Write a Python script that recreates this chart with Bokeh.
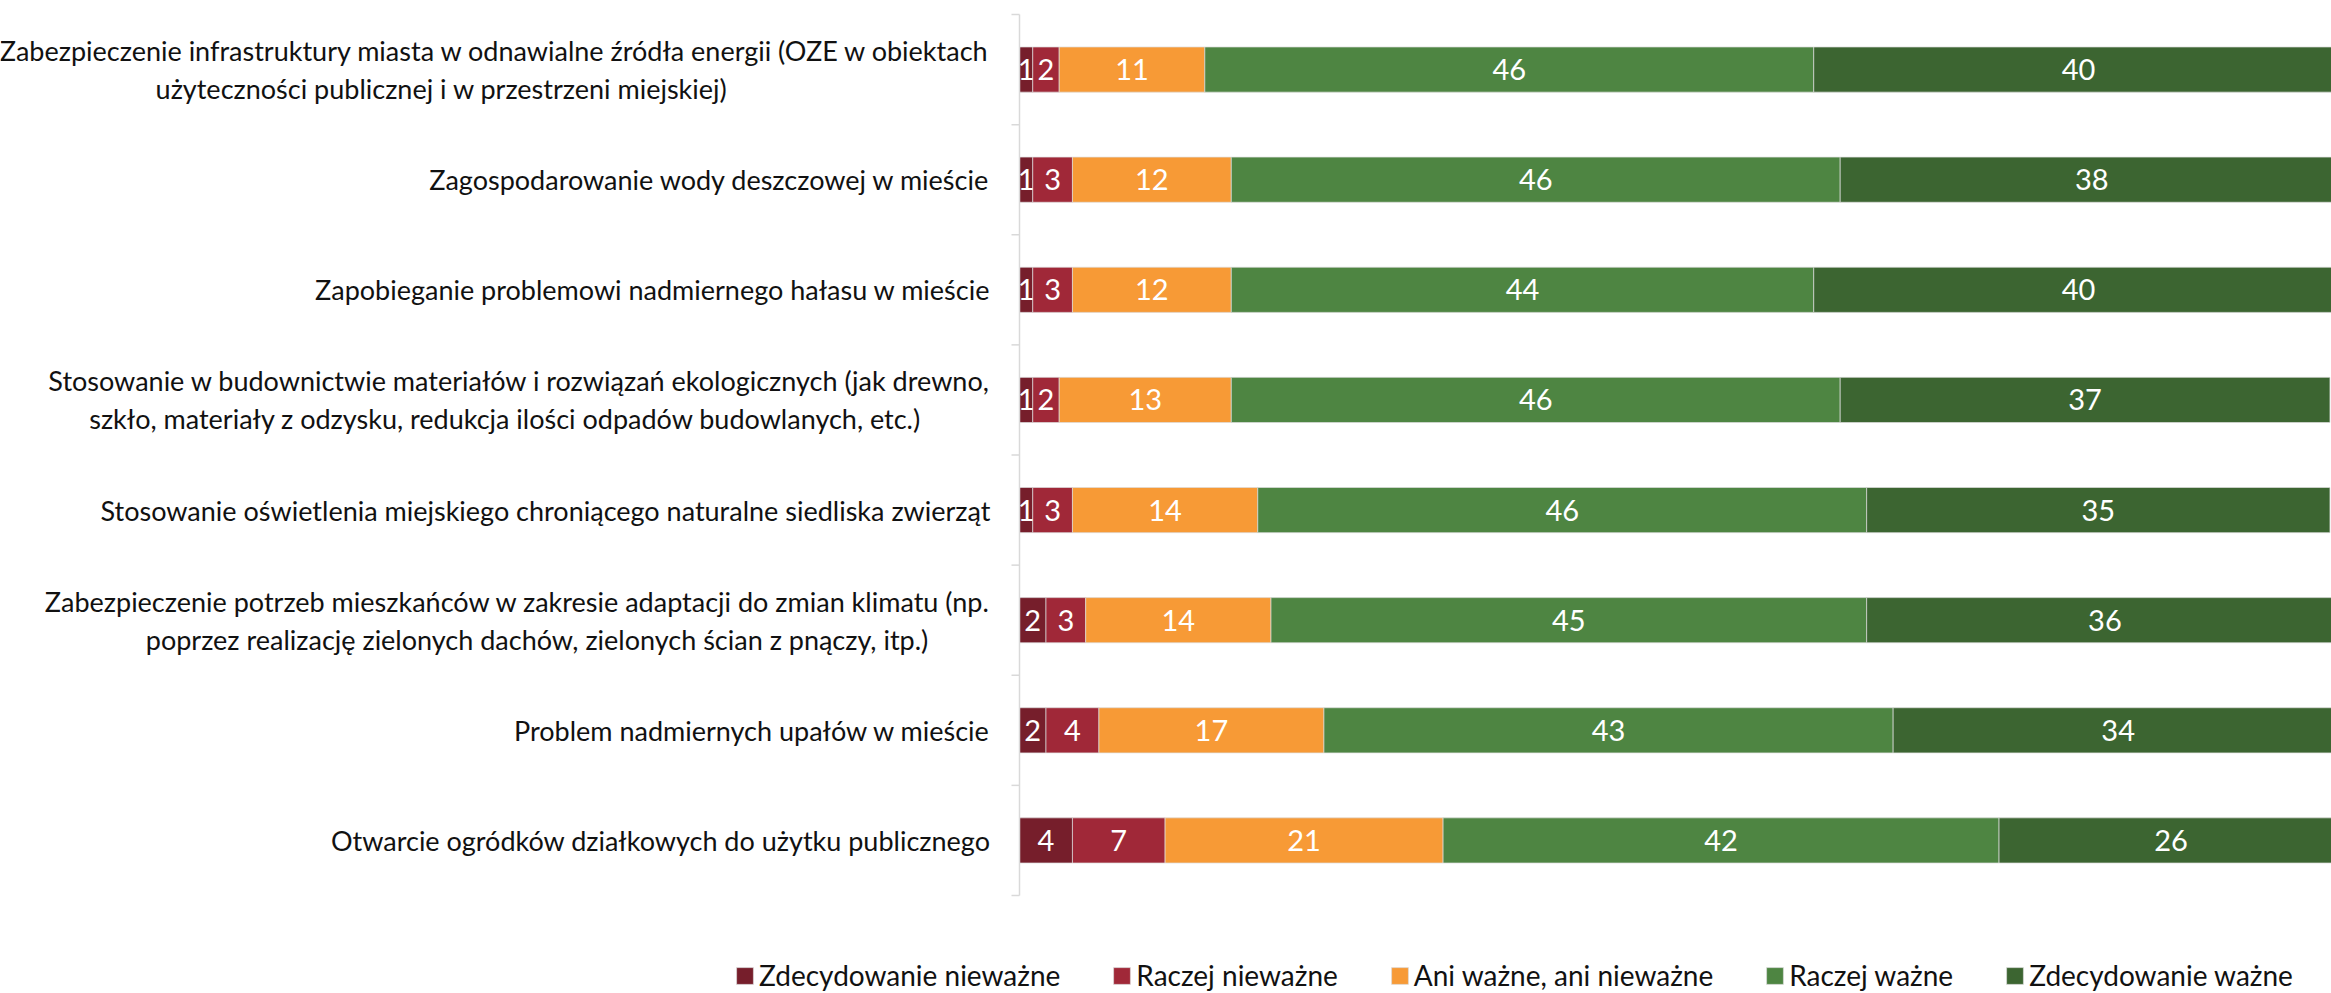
from bokeh.plotting import figure
from bokeh.models import ColumnDataSource, Range1d
from bokeh.core.properties import value
from bokeh.embed import file_html
from bokeh.resources import INLINE

categories = [
    "Zabezpieczenie infrastruktury miasta w odnawialne źródła energii (OZE w obiektach\nużyteczności publicznej i w przestrzeni miejskiej)",
    "Zagospodarowanie wody deszczowej w mieście",
    "Zapobieganie problemowi nadmiernego hałasu w mieście",
    "Stosowanie w budownictwie materiałów i rozwiązań ekologicznych (jak drewno,\nszkło, materiały z odzysku, redukcja ilości odpadów budowlanych, etc.)",
    "Stosowanie oświetlenia miejskiego chroniącego naturalne siedliska zwierząt",
    "Zabezpieczenie potrzeb mieszkańców w zakresie adaptacji do zmian klimatu (np.\npoprzez realizację zielonych dachów, zielonych ścian z pnączy, itp.)",
    "Problem nadmiernych upałów w mieście",
    "Otwarcie ogródków działkowych do użytku publicznego",
]

series_names = [
    "Zdecydowanie nieważne",
    "Raczej nieważne",
    "Ani ważne, ani nieważne",
    "Raczej ważne",
    "Zdecydowanie ważne",
]

zdecydowanie_niewazne = [1, 1, 1, 1, 1, 2, 2, 4]
raczej_niewazne = [2, 3, 3, 2, 3, 3, 4, 7]
ani_wazne_ani_niewazne = [11, 12, 12, 13, 14, 14, 17, 21]
raczej_wazne = [46, 46, 44, 46, 46, 45, 43, 42]
zdecydowanie_wazne = [40, 38, 40, 37, 35, 36, 34, 26]

series_values = [zdecydowanie_niewazne, raczej_niewazne, ani_wazne_ani_niewazne,
                 raczej_wazne, zdecydowanie_wazne]
colors = ["#761E2B", "#A02838", "#F79A36", "#4E8542", "#3C6531"]

# ---- styling ----
FONT = "Lato"
W, H = 2331, 993
AXIS_PX = 1019          # pixel position of the category axis
TOP_PX, BOTTOM_PX = 14, 895
PX_PER_UNIT = 13.237    # horizontal scale (px per percentage point)
LABEL_GAP_PX = 29
TICK_PX = 8
# trailing no-break spaces to centre the second line of wrapped labels
line2_pad = [38, 0, 0, 10, 0, 9, 0, 0]

n = len(categories)
ypos = [n - 0.5 - i for i in range(n)]
row_px = (BOTTOM_PX - TOP_PX) / n

x_start = -AXIS_PX / PX_PER_UNIT
x_end = (W - AXIS_PX) / PX_PER_UNIT
y_end = n + TOP_PX / row_px
y_start = -(H - BOTTOM_PX) / row_px


def tick_label(text, pad):
    lines = text.split("\n")
    if len(lines) > 1:
        lines[-1] = lines[-1] + "\u00a0" * pad
    return "\n".join(lines)


data = {"y": ypos, "label": [tick_label(c, pd) for c, pd in zip(categories, line2_pad)]}
keys = []
for k, vals in enumerate(series_values):
    key = f"s{k}"
    keys.append(key)
    data[key] = vals
source = ColumnDataSource(data)

p = figure(width=W, height=H, output_backend="svg", toolbar_location=None,
           x_range=Range1d(x_start, x_end), y_range=Range1d(y_start, y_end),
           min_border=0, x_axis_type=None, y_axis_type=None)
p.xgrid.visible = False
p.ygrid.visible = False
p.outline_line_color = None

p.hbar_stack(keys, y="y", height=0.41, color=colors, source=source,
             line_color="#dcdcdc", line_alpha=0.7, line_width=1,
             legend_label=series_names)

# value labels inside the segments
lx, ly, lt = [], [], []
for i in range(n):
    cum = 0
    for vals in series_values:
        v = vals[i]
        lx.append(cum + v / 2)
        ly.append(ypos[i])
        lt.append(str(v))
        cum += v
p.text(x=lx, y=ly, text=lt, text_align="center", text_baseline="middle",
       text_color="white", text_font=value(FONT), text_font_size="29px")

# category axis: line, boundary ticks and labels
p.segment(x0=[0], y0=[0], x1=[0], y1=[n], line_color="#d9d9d9", line_width=1.5)
bounds = list(range(n + 1))
p.segment(x0=[-TICK_PX / PX_PER_UNIT] * len(bounds), y0=bounds,
          x1=[0] * len(bounds), y1=bounds, line_color="#d9d9d9", line_width=1.5)
p.text(x=-LABEL_GAP_PX / PX_PER_UNIT, y="y", text="label", source=source,
       text_align="right", text_baseline="middle", text_color="#111111",
       text_font=value(FONT), text_font_size="27px", text_line_height=1.15)

leg = p.legend[0]
leg.orientation = "horizontal"
leg.location = (734, 1)
leg.border_line_color = None
leg.background_fill_alpha = 0
leg.padding = 0
leg.margin = 0
leg.spacing = 51
leg.glyph_width = 21
leg.glyph_height = 21
leg.label_standoff = 4
leg.label_text_font = FONT
leg.label_text_font_size = "28px"
leg.label_text_color = "#111111"

open("out.html", "w").write(file_html(p, INLINE))
